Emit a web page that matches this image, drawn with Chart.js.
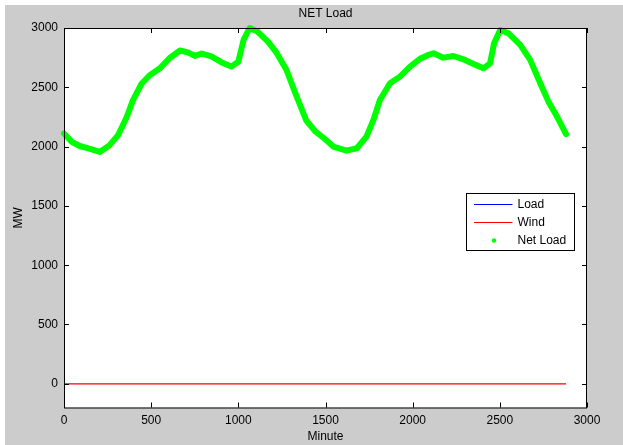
<!DOCTYPE html>
<html><head><meta charset="utf-8">
<script src="https://cdn.jsdelivr.net/npm/chart.js@4.4.1/dist/chart.umd.min.js"></script>
<style>html,body{margin:0;padding:0;background:#fff;overflow:hidden}canvas{display:block}</style>
</head><body>
<canvas id="c" width="623" height="445"></canvas>
<script>
const chartTitle = 'NET Load';
const xAxisTitle = 'Minute';
const yAxisTitle = 'MW';
const seriesNames = ['Load', 'Wind', 'Net Load'];

const minutes = [0, 45, 90, 150, 205, 260, 310, 360, 395, 445, 490, 550, 605, 665, 710, 750, 790, 845, 905, 960,
  1000, 1030, 1065, 1110, 1170, 1220, 1275, 1335, 1390, 1440, 1500, 1545, 1620, 1680, 1735, 1775, 1812, 1870, 1927, 1985,
  2042, 2090, 2120, 2176, 2234, 2291, 2349, 2406, 2444, 2467, 2502, 2550, 2617, 2674, 2732, 2779, 2828, 2880];
const load = [2110, 2040, 2005, 1980, 1955, 2010, 2095, 2250, 2390, 2530, 2600, 2660, 2745, 2810, 2795, 2765, 2785, 2760, 2710, 2675,
  2715, 2900, 3000, 2970, 2885, 2790, 2650, 2420, 2220, 2130, 2060, 2000, 1966, 1986, 2084, 2225, 2393, 2534, 2590, 2674,
  2740, 2773, 2787, 2750, 2764, 2736, 2697, 2660, 2702, 2871, 2983, 2955, 2857, 2731, 2534, 2379, 2253, 2105];
const wind = [0, 0, 0, 0, 0, 0, 0, 0, 0, 0, 0, 0, 0, 0, 0, 0, 0, 0, 0, 0,
  0, 0, 0, 0, 0, 0, 0, 0, 0, 0, 0, 0, 0, 0, 0, 0, 0, 0, 0, 0,
  0, 0, 0, 0, 0, 0, 0, 0, 0, 0, 0, 0, 0, 0, 0, 0, 0, 0];
const netLoad = [2110, 2040, 2005, 1980, 1955, 2010, 2095, 2250, 2390, 2530, 2600, 2660, 2745, 2810, 2795, 2765, 2785, 2760, 2710, 2675,
  2715, 2900, 3000, 2970, 2885, 2790, 2650, 2420, 2220, 2130, 2060, 2000, 1966, 1986, 2084, 2225, 2393, 2534, 2590, 2674,
  2740, 2773, 2787, 2750, 2764, 2736, 2697, 2660, 2702, 2871, 2983, 2955, 2857, 2731, 2534, 2379, 2253, 2105];

const xTicks = [0, 500, 1000, 1500, 2000, 2500, 3000];
const yTicks = [0, 500, 1000, 1500, 2000, 2500, 3000];
const xRange = [0, 3000];
const yRange = [-200, 3000];

const FONT = 'Liberation Sans, Arial, Helvetica, sans-serif';
const BLUE = '#0000ff', RED = '#ff0000', GREEN = '#00ff00';

const pts = arr => minutes.map((m, i) => ({x: m, y: arr[i]}));

const matlabPlugin = {
  id: 'matlab',
  beforeDraw(chart) {
    const {ctx, chartArea: a} = chart;
    ctx.save();
    ctx.fillStyle = '#ffffff';
    ctx.fillRect(0, 0, chart.width, chart.height);
    ctx.fillStyle = '#cccccc';
    ctx.fillRect(5, 5, chart.width - 5, chart.height - 5);
    ctx.fillStyle = '#ffffff';
    ctx.fillRect(a.left, a.top, a.right - a.left, a.bottom - a.top);
    ctx.restore();
  },
  afterDraw(chart) {
    const {ctx, chartArea: a} = chart;
    const xs = chart.scales.x, ys = chart.scales.y;
    ctx.save();
    ctx.strokeStyle = '#000';
    ctx.lineWidth = 1;
    ctx.strokeRect(a.left + 0.5, a.top + 0.5, a.right - a.left - 1, a.bottom - a.top);
    ctx.beginPath();
    xTicks.forEach(v => {
      const px = Math.round(xs.getPixelForValue(v)) + 0.5;
      ctx.moveTo(px, a.bottom); ctx.lineTo(px, a.bottom - 5);
      ctx.moveTo(px, a.top); ctx.lineTo(px, a.top + 5);
    });
    yTicks.forEach(v => {
      const py = Math.round(ys.getPixelForValue(v)) + 0.5;
      ctx.moveTo(a.left, py); ctx.lineTo(a.left + 5, py);
      ctx.moveTo(a.right, py); ctx.lineTo(a.right - 5, py);
    });
    ctx.stroke();

    // title
    ctx.fillStyle = '#000';
    ctx.font = '12px ' + FONT;
    ctx.textAlign = 'center';
    ctx.textBaseline = 'middle';
    ctx.fillText(chartTitle, (a.left + a.right) / 2, 14);

    // legend
    const bx = a.right - 120.5, by = 193.5, bw = 108, bh = 57;
    ctx.fillStyle = '#fff';
    ctx.fillRect(bx, by, bw, bh);
    ctx.strokeStyle = '#000';
    ctx.strokeRect(bx, by, bw, bh);
    const rows = [
      {label: seriesNames[0], color: BLUE, kind: 'line', y: 204.5},
      {label: seriesNames[1], color: RED, kind: 'line', y: 222.5},
      {label: seriesNames[2], color: GREEN, kind: 'dot', y: 240.5}
    ];
    rows.forEach(r => {
      if (r.kind === 'line') {
        ctx.strokeStyle = r.color;
        ctx.beginPath();
        ctx.moveTo(bx + 7.5, r.y); ctx.lineTo(bx + 46, r.y);
        ctx.stroke();
      } else {
        ctx.fillStyle = r.color;
        ctx.beginPath();
        ctx.arc(bx + 27.5, r.y, 2.2, 0, Math.PI * 2);
        ctx.fill();
      }
      ctx.fillStyle = '#000';
      ctx.textAlign = 'left';
      ctx.fillText(r.label, bx + 51, r.y);
    });
    ctx.restore();
  }
};

new Chart(document.getElementById('c'), {
  type: 'line',
  data: {
    datasets: [
      {label: seriesNames[0], data: pts(load), borderColor: BLUE, borderWidth: 1, pointRadius: 0, order: 3, tension: 0},
      {label: seriesNames[1], data: pts(wind), borderColor: RED, borderWidth: 1.3, pointRadius: 0, order: 2, tension: 0},
      {label: seriesNames[2], data: pts(netLoad), borderColor: GREEN, borderWidth: 6, pointRadius: 0,
        borderJoinStyle: 'round', borderCapStyle: 'round', order: 1, tension: 0, clip: 6}
    ]
  },
  options: {
    responsive: false,
    animation: false,
    devicePixelRatio: 1,
    layout: {padding: {left: 0, right: 36, top: 28, bottom: 0}},
    plugins: {legend: {display: false}, title: {display: false}, tooltip: {enabled: false}},
    scales: {
      x: {
        type: 'linear', min: xRange[0], max: xRange[1],
        grid: {display: false, drawTicks: false}, border: {display: false},
        afterBuildTicks: s => { s.ticks = xTicks.map(v => ({value: v})); },
        afterFit: s => { s.height = 37.5; },
        ticks: {color: '#000', font: {family: FONT, size: 12}, padding: 6, maxRotation: 0, autoSkip: false,
          callback: v => String(v)},
        title: {display: true, text: xAxisTitle, color: '#000', font: {family: FONT, size: 12, lineHeight: 1.2},
          padding: {top: 0, bottom: 1.5}}
      },
      y: {
        type: 'linear', min: yRange[0], max: yRange[1],
        grid: {display: false, drawTicks: false}, border: {display: false},
        afterBuildTicks: s => { s.ticks = yTicks.map(v => ({value: v})); },
        afterFit: s => { s.width = 64; },
        ticks: {color: '#000', font: {family: FONT, size: 12}, padding: 6, autoSkip: false,
          callback: v => String(v)},
        title: {display: true, text: yAxisTitle, color: '#000', font: {family: FONT, size: 12, lineHeight: 1.2},
          padding: {top: 11, bottom: 0}}
      }
    }
  },
  plugins: [matlabPlugin]
});
</script>
</body></html>
